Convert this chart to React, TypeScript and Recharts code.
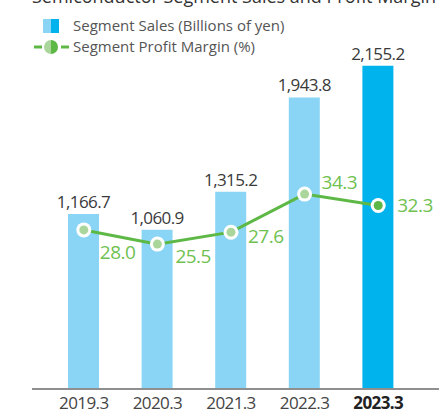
import React from 'react';
import { ComposedChart, Bar, Line, XAxis, YAxis, Cell, LabelList } from 'recharts';

const years = ['2019.3', '2020.3', '2021.3', '2022.3', '2023.3'];
const sales = [1166.7, 1060.9, 1315.2, 1943.8, 2155.2];
const profitMargin = [28.0, 25.5, 27.6, 34.3, 32.3];

const data = years.map((y, i) => ({ year: y, sales: sales[i], margin: profitMargin[i] }));

const FONT = '"Open Sans", sans-serif';
const BAR_LIGHT = '#8ad5f5';
const BAR_DARK = '#00b3ec';
const LINE_GREEN = '#5db845';
const LABEL_GREEN = '#6fc150';
const DOT_LIGHT = '#aad69b';
const DOT_DARK = '#5db845';

// label offsets relative to each point (style only)
const marginLabelOffset = [
  { dx: 16, dy: 22 },
  { dx: 18, dy: 12 },
  { dx: 17, dy: 4 },
  { dx: 17, dy: -12 },
  { dx: 19, dy: 0 },
];

const fmt = (v: number) =>
  v.toLocaleString('en-US', { minimumFractionDigits: 1, maximumFractionDigits: 1 });

const Tick = (props: any) => {
  const { x, payload, index } = props;
  const last = index === years.length - 1;
  return (
    <text
      x={x}
      y={389 + 20}
      textAnchor="middle"
      fontFamily={FONT}
      fontSize={17}
      fontWeight={last ? 700 : 400}
      fill={last ? '#222' : '#444'}
      letterSpacing={-0.6}
    >
      {payload.value}
    </text>
  );
};

const Dot = (props: any) => {
  const { cx, cy, index } = props;
  const last = index === years.length - 1;
  return (
    <g key={`d${index}`}>
      <circle cx={cx} cy={cy} r={7.5} fill="#fff" />
      <circle cx={cx} cy={cy} r={4.5} fill={last ? DOT_DARK : DOT_LIGHT} />
    </g>
  );
};

const MarginLabel = (props: any) => {
  const { x, y, value, index } = props;
  const o = marginLabelOffset[index] || { dx: 16, dy: 0 };
  return (
    <text
      x={x + o.dx}
      y={y + o.dy}
      dominantBaseline="central"
      textAnchor="start"
      fontFamily={FONT}
      fontSize={19}
      fill={LABEL_GREEN}
      letterSpacing={-0.5}
    >
      {Number(value).toFixed(1)}
    </text>
  );
};

export default function App() {
  return (
    <div style={{ position: 'absolute', left: 0, top: 0, width: 439, height: 413, overflow: 'hidden', background: '#fff' }}>
      <ComposedChart
        width={439}
        height={413}
        data={data}
        margin={{ top: 14, right: 0, bottom: 0, left: 32 }}
        barCategoryGap={0}
      >
        <XAxis
          dataKey="year"
          height={24}
          tickLine={false}
          axisLine={{ stroke: '#8f8f8f', strokeWidth: 2 }}
          padding={{ left: 15, right: 24 }}
          tick={<Tick />}
          interval={0}
        />
        <YAxis yAxisId="l" hide domain={[0, 2500]} />
        <YAxis yAxisId="r" hide orientation="right" domain={[0, 66]} />
        <Bar yAxisId="l" dataKey="sales" barSize={31} isAnimationActive={false}>
          {data.map((d, i) => (
            <Cell key={i} fill={i === data.length - 1 ? BAR_DARK : BAR_LIGHT} />
          ))}
          <LabelList
            dataKey="sales"
            position="top"
            offset={6}
            formatter={(v: any) => fmt(Number(v))}
            style={{ fontFamily: FONT, fontSize: 17, fill: '#3a3a3a', letterSpacing: -0.6 }}
          />
        </Bar>
        <Line
          yAxisId="r"
          dataKey="margin"
          stroke={LINE_GREEN}
          strokeWidth={3}
          dot={<Dot />}
          activeDot={false}
          isAnimationActive={false}
        >
          <LabelList dataKey="margin" content={<MarginLabel />} />
        </Line>
      </ComposedChart>
      <svg width={439} height={413} style={{ position: 'absolute', left: 0, top: 0, pointerEvents: 'none' }}>
        <text x={32} y={3} fontFamily={FONT} fontSize={18} fontWeight={500} fill="#333" textLength={404} lengthAdjust="spacingAndGlyphs">
          Semiconductor Segment Sales and Profit Margin
        </text>
        <rect x={43} y={19} width={8} height={14} fill={BAR_LIGHT} />
        <rect x={51} y={19} width={8} height={14} fill={BAR_DARK} />
        <text x={73} y={31} fontFamily={FONT} fontSize={15} fill="#555">
          Segment Sales (Billions of yen)
        </text>
        <line x1={34} y1={47} x2={42} y2={47} stroke={LINE_GREEN} strokeWidth={3} />
        <line x1={61} y1={47} x2={69} y2={47} stroke={LINE_GREEN} strokeWidth={3} />
        <path d="M51,40 A7,7 0 0 0 51,54 Z" fill={DOT_LIGHT} />
        <path d="M51,40 A7,7 0 0 1 51,54 Z" fill={DOT_DARK} />
        <text x={73} y={52} fontFamily={FONT} fontSize={15} fill="#555">
          Segment Profit Margin (%)
        </text>
      </svg>
    </div>
  );
}
